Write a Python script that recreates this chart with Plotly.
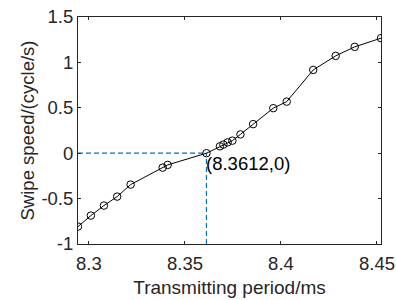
import plotly.graph_objects as go

period = [8.2943, 8.3010, 8.3078, 8.3147, 8.3217, 8.3384, 8.3410, 8.3612,
          8.3682, 8.3700, 8.3722, 8.3747, 8.3789, 8.3855, 8.3960, 8.4030,
          8.4168, 8.4285, 8.4384, 8.4521]
speed = [-0.808, -0.687, -0.577, -0.478, -0.346, -0.159, -0.129, 0.0,
         0.076, 0.095, 0.119, 0.138, 0.207, 0.320, 0.496, 0.568,
         0.917, 1.072, 1.171, 1.267]
zero_x = 8.3612
zero_y = 0.0
x_range = [8.2943, 8.4521]
y_range = [-1, 1.5]
x_ticks = [8.3, 8.35, 8.4, 8.45]
x_ticktext = ["8.3", "8.35", "8.4", "8.45"]
y_ticks = [-1, -0.5, 0, 0.5, 1, 1.5]
y_ticktext = ["-1", "-0.5", "0", "0.5", "1", "1.5"]

font = "Liberation Sans, Arial, Helvetica, sans-serif"
axcol = "#262626"
blue = "#0072BD"

fig = go.Figure()
fig.add_trace(go.Scatter(x=[x_range[0], zero_x], y=[zero_y, zero_y], mode="lines",
                         line=dict(color=blue, width=1.2, dash="5px,3px"),
                         hoverinfo="skip", showlegend=False))
fig.add_trace(go.Scatter(x=[zero_x, zero_x], y=[y_range[0], zero_y], mode="lines",
                         line=dict(color=blue, width=1.2, dash="5px,3px"),
                         hoverinfo="skip", showlegend=False))
fig.add_trace(go.Scatter(x=period, y=speed, mode="lines+markers",
                         line=dict(color="black", width=1),
                         marker=dict(symbol="circle-open", size=7.5, color="black",
                                     line=dict(width=1, color="black")),
                         showlegend=False))

fig.add_annotation(x=zero_x, y=zero_y, text="(8.3612,0)", showarrow=False,
                   xanchor="left", yanchor="top", xshift=-2, yshift=2,
                   font=dict(family=font, size=18.5, color="black"))

fig.update_xaxes(range=x_range, tickvals=x_ticks, ticktext=x_ticktext,
                 ticks="inside", ticklen=3, tickcolor=axcol, tickwidth=1,
                 showline=True, linecolor=axcol, linewidth=1, mirror="ticks",
                 showgrid=False, zeroline=False, ticklabelstandoff=3,
                 automargin=False,
                 tickfont=dict(family=font, size=18.5, color=axcol),
                 title=dict(text="Transmitting period/ms", standoff=7,
                            font=dict(family=font, size=19, color=axcol)))
fig.update_yaxes(range=y_range, tickvals=y_ticks, ticktext=y_ticktext,
                 ticks="inside", ticklen=3, tickcolor=axcol, tickwidth=1,
                 showline=True, linecolor=axcol, linewidth=1, mirror="ticks",
                 showgrid=False, zeroline=False, automargin=False,
                 tickfont=dict(family=font, size=18.5, color=axcol),
                 title=dict(text="Swipe speed/(cycle/s)", standoff=1,
                            font=dict(family=font, size=18.5, color=axcol)))

fig.update_layout(width=396, height=300, margin=dict(l=78, r=15, t=17, b=56),
                  plot_bgcolor="white", paper_bgcolor="white",
                  font=dict(family=font))
fig.write_html("out.html", config={"displayModeBar": False},
               post_script="document.body.style.margin='0';document.body.style.overflow='hidden';")
